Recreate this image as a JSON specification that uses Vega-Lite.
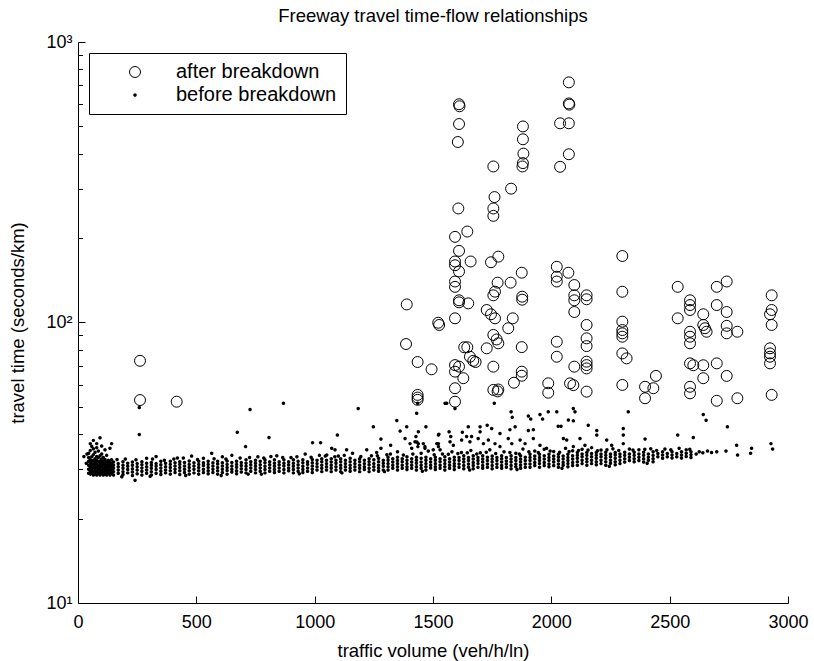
{
"$schema":"https://vega.github.io/schema/vega-lite/v6.json",
"width":710,"height":561,
"autosize":{"type":"none"},
"padding":{"left":78,"top":42,"right":26,"bottom":58},
"background":"white",
"title":{"text":"Freeway travel time-flow relationships","fontSize":18.5,"fontWeight":"normal","font":"Liberation Sans","color":"black","frame":"group","anchor":"middle","baseline":"alphabetic","offset":2,"dy":9},
"config":{"view":{"stroke":null},"font":"Liberation Sans",
"axis":{"grid":false,"domainColor":"black","domainWidth":1,"tickColor":"black","tickWidth":1,"labelColor":"black","titleColor":"black","labelFontSize":18,"titleFontSize":18.5,"titleFontWeight":"normal","labelFont":"Liberation Sans","titleFont":"Liberation Sans"},
"legend":{"orient":"none","legendX":11,"legendY":11,"strokeColor":"black","fillColor":"white","padding":9,"labelFontSize":20,"labelLimit":400,"labelFont":"Liberation Sans","labelColor":"black","symbolStrokeColor":"black","symbolType":"circle","symbolOffset":27,"labelOffset":31,"rowPadding":3,"cornerRadius":0,"strokeWidth":1}},
"datasets":{
"after":[{"x":262,"y":73},{"x":262,"y":52.9},{"x":417,"y":52.2},
{"x":1389,"y":116},{"x":1386,"y":83.8},{"x":1435,"y":72.3},{"x":1435,"y":55.2},{"x":1435,"y":54},{"x":1435,"y":53},{"x":1494,"y":68.1},{"x":1522,"y":99.8},{"x":1526,"y":98},
{"x":1593,"y":202},{"x":1645,"y":211},{"x":1610,"y":180},{"x":1593,"y":165},{"x":1593,"y":160},{"x":1610,"y":152},{"x":1659,"y":165},{"x":1593,"y":140},{"x":1593,"y":134},{"x":1610,"y":120},{"x":1610,"y":118},{"x":1649,"y":117},{"x":1593,"y":103.5},{"x":1632,"y":81.6},{"x":1645,"y":81.6},{"x":1656,"y":75.5},{"x":1670,"y":73},{"x":1680,"y":72.3},{"x":1593,"y":70.5},{"x":1593,"y":66.8},{"x":1610,"y":69.6},{"x":1628,"y":63.3},{"x":1593,"y":58.3},{"x":1593,"y":52.2},
{"x":1727,"y":110.8},{"x":1745,"y":107},{"x":1762,"y":103.5},{"x":1745,"y":164},{"x":1776,"y":171.7},{"x":1755,"y":125},{"x":1762,"y":128.8},{"x":1773,"y":138.7},{"x":1837,"y":103.5},{"x":1818,"y":95.4},{"x":1727,"y":80.9},{"x":1755,"y":90.3},{"x":1769,"y":87},{"x":1776,"y":84.3},{"x":1755,"y":69.6},{"x":1755,"y":57.5},{"x":1773,"y":56.8},{"x":1776,"y":57.7},{"x":1828,"y":138.7},{"x":1875,"y":150.5},{"x":1877,"y":123.6},{"x":1877,"y":120.6},{"x":1875,"y":81.7},{"x":1875,"y":66.8},{"x":1875,"y":64.6},{"x":1842,"y":61},
{"x":2023,"y":158},{"x":2023,"y":145.6},{"x":2023,"y":140},{"x":2072,"y":150.5},{"x":2023,"y":85.4},{"x":2023,"y":75.5},{"x":1987,"y":60.7},{"x":1987,"y":56.2},
{"x":2097,"y":136},{"x":2097,"y":125},{"x":2097,"y":120},{"x":2097,"y":109},{"x":2149,"y":125},{"x":2149,"y":121},{"x":2149,"y":98},{"x":2149,"y":87.8},{"x":2149,"y":82.4},{"x":2149,"y":72.5},{"x":2149,"y":70.5},{"x":2149,"y":68.6},{"x":2149,"y":56.7},{"x":2097,"y":69.6},{"x":2079,"y":60.7},{"x":2093,"y":59.8},
{"x":2300,"y":172.6},{"x":2300,"y":128.7},{"x":2300,"y":100.7},{"x":2300,"y":94},{"x":2300,"y":91.5},{"x":2300,"y":89},{"x":2300,"y":77.6},{"x":2318,"y":74.5},{"x":2300,"y":59.9},
{"x":2396,"y":59},{"x":2396,"y":53.7},{"x":2431,"y":58.3},{"x":2442,"y":64.5},
{"x":2534,"y":134},{"x":2534,"y":103.5},{"x":2586,"y":120},{"x":2586,"y":115.4},{"x":2586,"y":110.8},{"x":2586,"y":92.7},{"x":2586,"y":89},{"x":2586,"y":84.3},{"x":2586,"y":71.5},{"x":2600,"y":70.4},{"x":2586,"y":59},{"x":2586,"y":55.9},
{"x":2642,"y":107},{"x":2642,"y":98},{"x":2649,"y":95.4},{"x":2656,"y":92.7},{"x":2642,"y":70.4},{"x":2642,"y":63.3},{"x":2699,"y":134},{"x":2699,"y":115.4},{"x":2699,"y":71.5},{"x":2699,"y":52.6},{"x":2741,"y":140},{"x":2741,"y":109},{"x":2741,"y":97.3},{"x":2741,"y":91.5},{"x":2741,"y":64.5},{"x":2786,"y":92.7},{"x":2786,"y":53.7},
{"x":2931,"y":125},{"x":2931,"y":110.8},{"x":2924,"y":107},{"x":2931,"y":98},{"x":2924,"y":80.9},{"x":2924,"y":77.6},{"x":2924,"y":75.5},{"x":2924,"y":71.5},{"x":2931,"y":55.2},
{"x":1610,"y":600},{"x":1612,"y":590},{"x":1610,"y":510},{"x":1605,"y":440},{"x":1607,"y":255},{"x":1755,"y":360},{"x":1760,"y":280},{"x":1755,"y":255},{"x":1755,"y":240},{"x":1830,"y":300},{"x":1880,"y":500},{"x":1880,"y":450},{"x":1882,"y":400},{"x":1880,"y":370},{"x":1878,"y":360},{"x":2037,"y":513},{"x":2037,"y":359},{"x":2074,"y":718},{"x":2074,"y":604},{"x":2076,"y":598},{"x":2074,"y":513},{"x":2074,"y":398}],
"before":[
{"x":25,"y":33.3},{"x":35,"y":31.5},{"x":38,"y":34.0},
{"x":45,"y":29.0},{"x":45,"y":30.0},{"x":45,"y":31.0},{"x":45,"y":32.0},{"x":45,"y":33.0},{"x":45,"y":34.2},
{"x":52,"y":28.8},{"x":52,"y":29.6},{"x":52,"y":30.5},{"x":52,"y":31.4},{"x":52,"y":32.4},{"x":52,"y":35.0},{"x":52,"y":37.0},
{"x":58,"y":29.2},{"x":58,"y":30.1},{"x":58,"y":31.0},{"x":58,"y":32.0},{"x":58,"y":33.2},{"x":58,"y":36.2},
{"x":65,"y":28.6},{"x":65,"y":29.5},{"x":65,"y":30.4},{"x":65,"y":31.3},{"x":65,"y":32.2},{"x":65,"y":33.8},{"x":65,"y":35.5},{"x":65,"y":38.0},
{"x":72,"y":29.0},{"x":72,"y":29.9},{"x":72,"y":30.8},{"x":72,"y":31.7},{"x":72,"y":32.7},{"x":72,"y":34.5},
{"x":79,"y":28.6},{"x":79,"y":29.5},{"x":79,"y":30.4},{"x":79,"y":31.3},{"x":79,"y":32.2},{"x":79,"y":33.3},{"x":79,"y":35.8},{"x":79,"y":37.0},
{"x":86,"y":29.0},{"x":86,"y":29.9},{"x":86,"y":30.8},{"x":86,"y":31.8},{"x":86,"y":33.0},{"x":86,"y":34.8},
{"x":93,"y":28.6},{"x":93,"y":29.4},{"x":93,"y":30.3},{"x":93,"y":31.2},{"x":93,"y":32.1},{"x":93,"y":33.5},{"x":93,"y":38.8},
{"x":100,"y":29.0},{"x":100,"y":29.8},{"x":100,"y":30.7},{"x":100,"y":31.6},{"x":100,"y":32.6},{"x":100,"y":34.0},{"x":100,"y":36.3},
{"x":107,"y":28.6},{"x":107,"y":29.4},{"x":107,"y":30.2},{"x":107,"y":31.1},{"x":107,"y":32.0},{"x":107,"y":33.0},
{"x":114,"y":29.0},{"x":114,"y":29.8},{"x":114,"y":30.6},{"x":114,"y":31.5},{"x":114,"y":32.5},{"x":114,"y":35.2},
{"x":121,"y":28.6},{"x":121,"y":29.4},{"x":121,"y":30.2},{"x":121,"y":31.0},{"x":121,"y":31.9},{"x":121,"y":33.6},
{"x":128,"y":29.0},{"x":128,"y":29.8},{"x":128,"y":30.6},{"x":128,"y":31.4},{"x":128,"y":32.3},
{"x":135,"y":28.6},{"x":135,"y":29.4},{"x":135,"y":30.2},{"x":135,"y":31.0},{"x":135,"y":31.8},{"x":135,"y":35.6},
{"x":142,"y":29.0},{"x":142,"y":29.8},{"x":142,"y":30.6},{"x":142,"y":31.4},{"x":142,"y":32.4},{"x":142,"y":37.0},
{"x":150,"y":28.6},{"x":150,"y":29.4},{"x":150,"y":30.2},{"x":150,"y":31.0},{"x":150,"y":31.8},
{"x":170,"y":29.0},{"x":170,"y":29.8},{"x":170,"y":30.6},{"x":170,"y":31.4},
{"x":190,"y":28.7},{"x":190,"y":29.4},{"x":190,"y":30.2},{"x":190,"y":31.0},{"x":190,"y":31.9},
{"x":210,"y":29.1},{"x":210,"y":29.9},{"x":210,"y":30.7},{"x":210,"y":31.5},
{"x":230,"y":28.5},{"x":230,"y":29.3},{"x":230,"y":30.1},{"x":230,"y":31.0},{"x":230,"y":31.8},
{"x":250,"y":28.9},{"x":250,"y":29.8},{"x":250,"y":30.6},{"x":250,"y":31.4},
{"x":270,"y":28.6},{"x":270,"y":29.5},{"x":270,"y":30.3},{"x":270,"y":31.1},{"x":270,"y":31.9},
{"x":290,"y":29.0},{"x":290,"y":29.8},{"x":290,"y":30.6},{"x":290,"y":31.5},
{"x":310,"y":28.6},{"x":310,"y":29.4},{"x":310,"y":30.2},{"x":310,"y":31.0},{"x":310,"y":31.7},
{"x":330,"y":29.0},{"x":330,"y":29.9},{"x":330,"y":30.7},{"x":330,"y":31.4},
{"x":350,"y":28.7},{"x":350,"y":29.5},{"x":350,"y":30.3},{"x":350,"y":31.1},{"x":350,"y":32.0},
{"x":370,"y":29.1},{"x":370,"y":29.8},{"x":370,"y":30.6},{"x":370,"y":31.5},
{"x":390,"y":28.8},{"x":390,"y":29.6},{"x":390,"y":30.4},{"x":390,"y":31.2},{"x":390,"y":32.0},
{"x":410,"y":29.2},{"x":410,"y":30.0},{"x":410,"y":30.8},{"x":410,"y":31.6},
{"x":430,"y":28.7},{"x":430,"y":29.6},{"x":430,"y":30.4},{"x":430,"y":31.2},{"x":430,"y":31.9},
{"x":450,"y":29.2},{"x":450,"y":30.0},{"x":450,"y":30.8},{"x":450,"y":31.7},
{"x":470,"y":28.8},{"x":470,"y":29.6},{"x":470,"y":30.4},{"x":470,"y":31.2},{"x":470,"y":32.1},
{"x":490,"y":29.1},{"x":490,"y":30.0},{"x":490,"y":30.8},{"x":490,"y":31.6},
{"x":510,"y":28.8},{"x":510,"y":29.6},{"x":510,"y":30.4},{"x":510,"y":31.2},{"x":510,"y":32.0},
{"x":530,"y":29.2},{"x":530,"y":30.0},{"x":530,"y":30.9},{"x":530,"y":31.6},
{"x":550,"y":28.9},{"x":550,"y":29.6},{"x":550,"y":30.4},{"x":550,"y":31.2},{"x":550,"y":32.0},
{"x":570,"y":29.2},{"x":570,"y":30.0},{"x":570,"y":30.8},{"x":570,"y":31.6},
{"x":590,"y":28.8},{"x":590,"y":29.6},{"x":590,"y":30.4},{"x":590,"y":31.3},{"x":590,"y":32.0},
{"x":610,"y":29.2},{"x":610,"y":30.0},{"x":610,"y":30.8},{"x":610,"y":31.6},
{"x":630,"y":28.8},{"x":630,"y":29.7},{"x":630,"y":30.4},{"x":630,"y":31.2},{"x":630,"y":32.1},
{"x":650,"y":29.3},{"x":650,"y":30.0},{"x":650,"y":30.8},{"x":650,"y":31.7},
{"x":670,"y":28.9},{"x":670,"y":29.6},{"x":670,"y":30.5},{"x":670,"y":31.2},{"x":670,"y":32.0},
{"x":690,"y":29.3},{"x":690,"y":30.1},{"x":690,"y":30.9},{"x":690,"y":31.7},
{"x":710,"y":29.1},{"x":710,"y":29.9},{"x":710,"y":30.7},{"x":710,"y":31.5},{"x":710,"y":32.4},
{"x":730,"y":29.5},{"x":730,"y":30.3},{"x":730,"y":31.1},{"x":730,"y":31.9},
{"x":750,"y":29.1},{"x":750,"y":29.9},{"x":750,"y":30.7},{"x":750,"y":31.5},{"x":750,"y":32.3},
{"x":770,"y":29.5},{"x":770,"y":30.3},{"x":770,"y":31.1},{"x":770,"y":32.0},
{"x":790,"y":29.1},{"x":790,"y":29.9},{"x":790,"y":30.7},{"x":790,"y":31.6},{"x":790,"y":32.4},
{"x":810,"y":29.5},{"x":810,"y":30.3},{"x":810,"y":31.1},{"x":810,"y":31.9},
{"x":830,"y":29.2},{"x":830,"y":29.9},{"x":830,"y":30.7},{"x":830,"y":31.5},{"x":830,"y":32.4},
{"x":850,"y":29.5},{"x":850,"y":30.3},{"x":850,"y":31.1},{"x":850,"y":31.9},
{"x":870,"y":29.1},{"x":870,"y":29.9},{"x":870,"y":30.8},{"x":870,"y":31.5},{"x":870,"y":32.4},
{"x":890,"y":29.6},{"x":890,"y":30.3},{"x":890,"y":31.1},{"x":890,"y":31.9},
{"x":910,"y":29.1},{"x":910,"y":29.9},{"x":910,"y":30.7},{"x":910,"y":31.5},{"x":910,"y":32.4},
{"x":930,"y":29.5},{"x":930,"y":30.3},{"x":930,"y":31.1},{"x":930,"y":32.0},
{"x":950,"y":29.2},{"x":950,"y":29.9},{"x":950,"y":30.7},{"x":950,"y":31.6},{"x":950,"y":32.4},
{"x":970,"y":29.5},{"x":970,"y":30.3},{"x":970,"y":31.2},{"x":970,"y":31.9},
{"x":990,"y":29.2},{"x":990,"y":30.0},{"x":990,"y":30.8},{"x":990,"y":31.6},{"x":990,"y":32.5},
{"x":1010,"y":29.8},{"x":1010,"y":30.6},{"x":1010,"y":31.4},{"x":1010,"y":32.3},
{"x":1030,"y":29.4},{"x":1030,"y":30.2},{"x":1030,"y":31.0},{"x":1030,"y":31.9},{"x":1030,"y":32.7},
{"x":1050,"y":29.8},{"x":1050,"y":30.6},{"x":1050,"y":31.4},{"x":1050,"y":32.3},
{"x":1070,"y":29.4},{"x":1070,"y":30.2},{"x":1070,"y":31.0},{"x":1070,"y":31.8},{"x":1070,"y":32.7},
{"x":1090,"y":29.8},{"x":1090,"y":30.6},{"x":1090,"y":31.5},{"x":1090,"y":32.3},
{"x":1110,"y":29.4},{"x":1110,"y":30.2},{"x":1110,"y":31.0},{"x":1110,"y":31.9},{"x":1110,"y":32.7},
{"x":1130,"y":29.8},{"x":1130,"y":30.6},{"x":1130,"y":31.4},{"x":1130,"y":32.3},
{"x":1150,"y":29.5},{"x":1150,"y":30.2},{"x":1150,"y":31.0},{"x":1150,"y":31.9},{"x":1150,"y":32.8},
{"x":1170,"y":29.8},{"x":1170,"y":30.6},{"x":1170,"y":31.4},{"x":1170,"y":32.3},
{"x":1190,"y":29.4},{"x":1190,"y":30.2},{"x":1190,"y":31.0},{"x":1190,"y":31.9},{"x":1190,"y":32.7},
{"x":1210,"y":29.9},{"x":1210,"y":30.6},{"x":1210,"y":31.4},{"x":1210,"y":32.3},
{"x":1230,"y":29.4},{"x":1230,"y":30.2},{"x":1230,"y":31.1},{"x":1230,"y":31.9},{"x":1230,"y":32.7},
{"x":1250,"y":29.8},{"x":1250,"y":30.6},{"x":1250,"y":31.4},{"x":1250,"y":32.4},
{"x":1270,"y":29.5},{"x":1270,"y":30.2},{"x":1270,"y":31.0},{"x":1270,"y":31.9},{"x":1270,"y":32.8},
{"x":1290,"y":29.8},{"x":1290,"y":30.7},{"x":1290,"y":31.5},{"x":1290,"y":32.3},
{"x":1310,"y":29.8},{"x":1310,"y":30.6},{"x":1310,"y":31.4},{"x":1310,"y":32.3},{"x":1310,"y":33.1},
{"x":1330,"y":30.2},{"x":1330,"y":31.0},{"x":1330,"y":31.8},{"x":1330,"y":32.7},
{"x":1350,"y":29.8},{"x":1350,"y":30.6},{"x":1350,"y":31.4},{"x":1350,"y":32.2},{"x":1350,"y":33.1},
{"x":1370,"y":30.2},{"x":1370,"y":31.0},{"x":1370,"y":31.9},{"x":1370,"y":32.7},
{"x":1390,"y":29.9},{"x":1390,"y":30.6},{"x":1390,"y":31.4},{"x":1390,"y":32.3},{"x":1390,"y":33.2},
{"x":1410,"y":30.2},{"x":1410,"y":31.0},{"x":1410,"y":31.8},{"x":1410,"y":32.7},
{"x":1430,"y":29.8},{"x":1430,"y":30.6},{"x":1430,"y":31.5},{"x":1430,"y":32.3},{"x":1430,"y":33.1},
{"x":1450,"y":30.2},{"x":1450,"y":31.0},{"x":1450,"y":31.8},{"x":1450,"y":32.8},
{"x":1470,"y":29.8},{"x":1470,"y":30.6},{"x":1470,"y":31.4},{"x":1470,"y":32.3},{"x":1470,"y":33.1},
{"x":1490,"y":30.3},{"x":1490,"y":31.0},{"x":1490,"y":31.8},{"x":1490,"y":32.7},
{"x":1510,"y":29.9},{"x":1510,"y":30.6},{"x":1510,"y":31.4},{"x":1510,"y":32.3},{"x":1510,"y":33.1},
{"x":1530,"y":30.2},{"x":1530,"y":31.0},{"x":1530,"y":31.9},{"x":1530,"y":32.7},
{"x":1550,"y":29.8},{"x":1550,"y":30.6},{"x":1550,"y":31.4},{"x":1550,"y":32.3},{"x":1550,"y":33.2},
{"x":1570,"y":30.2},{"x":1570,"y":31.0},{"x":1570,"y":31.8},{"x":1570,"y":32.7},
{"x":1590,"y":29.9},{"x":1590,"y":30.7},{"x":1590,"y":31.4},{"x":1590,"y":32.3},{"x":1590,"y":33.1},
{"x":1610,"y":30.5},{"x":1610,"y":31.3},{"x":1610,"y":32.2},{"x":1610,"y":33.0},
{"x":1630,"y":30.1},{"x":1630,"y":30.9},{"x":1630,"y":31.8},{"x":1630,"y":32.6},{"x":1630,"y":33.5},
{"x":1650,"y":30.5},{"x":1650,"y":31.3},{"x":1650,"y":32.2},{"x":1650,"y":33.0},
{"x":1670,"y":30.1},{"x":1670,"y":30.9},{"x":1670,"y":31.7},{"x":1670,"y":32.6},{"x":1670,"y":33.5},
{"x":1690,"y":30.5},{"x":1690,"y":31.4},{"x":1690,"y":32.2},{"x":1690,"y":33.0},
{"x":1710,"y":30.2},{"x":1710,"y":30.9},{"x":1710,"y":31.8},{"x":1710,"y":32.6},{"x":1710,"y":33.5},
{"x":1730,"y":30.5},{"x":1730,"y":31.3},{"x":1730,"y":32.2},{"x":1730,"y":33.1},
{"x":1750,"y":30.1},{"x":1750,"y":30.9},{"x":1750,"y":31.8},{"x":1750,"y":32.6},{"x":1750,"y":33.4},
{"x":1770,"y":30.5},{"x":1770,"y":31.3},{"x":1770,"y":32.2},{"x":1770,"y":33.0},
{"x":1790,"y":30.2},{"x":1790,"y":30.9},{"x":1790,"y":31.8},{"x":1790,"y":32.7},{"x":1790,"y":33.5},
{"x":1810,"y":30.5},{"x":1810,"y":31.3},{"x":1810,"y":32.1},{"x":1810,"y":33.0},
{"x":1830,"y":30.1},{"x":1830,"y":30.9},{"x":1830,"y":31.8},{"x":1830,"y":32.6},{"x":1830,"y":33.5},
{"x":1850,"y":30.6},{"x":1850,"y":31.3},{"x":1850,"y":32.2},{"x":1850,"y":33.0},
{"x":1870,"y":30.2},{"x":1870,"y":31.0},{"x":1870,"y":31.8},{"x":1870,"y":32.6},{"x":1870,"y":33.5},
{"x":1890,"y":30.5},{"x":1890,"y":31.3},{"x":1890,"y":32.2},{"x":1890,"y":33.1},
{"x":1910,"y":30.5},{"x":1910,"y":31.3},{"x":1910,"y":32.2},{"x":1910,"y":33.0},{"x":1910,"y":33.9},
{"x":1930,"y":30.9},{"x":1930,"y":31.7},{"x":1930,"y":32.6},{"x":1930,"y":33.4},
{"x":1950,"y":30.5},{"x":1950,"y":31.4},{"x":1950,"y":32.2},{"x":1950,"y":33.0},{"x":1950,"y":33.9},
{"x":1970,"y":30.9},{"x":1970,"y":31.7},{"x":1970,"y":32.6},{"x":1970,"y":33.5},
{"x":1990,"y":30.6},{"x":1990,"y":31.3},{"x":1990,"y":32.2},{"x":1990,"y":33.0},{"x":1990,"y":33.9},
{"x":2010,"y":30.9},{"x":2010,"y":31.8},{"x":2010,"y":32.6},{"x":2010,"y":33.4},
{"x":2030,"y":30.5},{"x":2030,"y":31.3},{"x":2030,"y":32.2},{"x":2030,"y":33.1},{"x":2030,"y":33.9},
{"x":2050,"y":31.0},{"x":2050,"y":31.7},{"x":2050,"y":32.6},{"x":2050,"y":33.4},
{"x":2070,"y":30.6},{"x":2070,"y":31.4},{"x":2070,"y":32.2},{"x":2070,"y":33.0},{"x":2070,"y":33.9},
{"x":2090,"y":30.9},{"x":2090,"y":31.7},{"x":2090,"y":32.6},{"x":2090,"y":33.5},
{"x":2110,"y":31.0},{"x":2110,"y":31.9},{"x":2110,"y":32.8},{"x":2110,"y":33.6},{"x":2110,"y":34.4},
{"x":2130,"y":31.4},{"x":2130,"y":32.3},{"x":2130,"y":33.2},{"x":2130,"y":34.0},
{"x":2150,"y":31.0},{"x":2150,"y":31.9},{"x":2150,"y":32.7},{"x":2150,"y":33.6},{"x":2150,"y":34.4},
{"x":2170,"y":31.4},{"x":2170,"y":32.3},{"x":2170,"y":33.2},{"x":2170,"y":34.1},
{"x":2190,"y":31.1},{"x":2190,"y":31.9},{"x":2190,"y":32.8},{"x":2190,"y":33.6},{"x":2190,"y":34.4},
{"x":2210,"y":31.4},{"x":2210,"y":32.3},{"x":2210,"y":33.2},{"x":2210,"y":34.0},
{"x":2230,"y":31.0},{"x":2230,"y":31.9},{"x":2230,"y":32.8},{"x":2230,"y":33.6},{"x":2230,"y":34.5},
{"x":2250,"y":31.5},{"x":2250,"y":32.3},{"x":2250,"y":33.2},{"x":2250,"y":34.0},
{"x":2270,"y":31.1},{"x":2270,"y":31.9},{"x":2270,"y":32.8},{"x":2270,"y":33.7},{"x":2270,"y":34.4},
{"x":2290,"y":31.4},{"x":2290,"y":32.3},{"x":2290,"y":33.2},{"x":2290,"y":34.0},
{"x":2310,"y":31.8},{"x":2310,"y":32.7},{"x":2310,"y":33.6},{"x":2310,"y":34.5},
{"x":2330,"y":32.2},{"x":2330,"y":33.1},{"x":2330,"y":34.0},
{"x":2350,"y":31.9},{"x":2350,"y":32.7},{"x":2350,"y":33.6},{"x":2350,"y":34.5},
{"x":2370,"y":32.2},{"x":2370,"y":33.1},{"x":2370,"y":34.0},
{"x":2390,"y":31.8},{"x":2390,"y":32.7},{"x":2390,"y":33.6},{"x":2390,"y":34.5},
{"x":2410,"y":32.3},{"x":2410,"y":33.1},{"x":2410,"y":34.0},
{"x":2430,"y":31.9},{"x":2430,"y":32.7},{"x":2430,"y":33.6},{"x":2430,"y":34.6},
{"x":2450,"y":33.2},{"x":2450,"y":34.1},
{"x":2470,"y":32.8},{"x":2470,"y":33.7},{"x":2470,"y":34.6},
{"x":2490,"y":33.2},{"x":2490,"y":34.1},
{"x":2510,"y":32.9},{"x":2510,"y":33.7},{"x":2510,"y":34.6},
{"x":2530,"y":33.2},{"x":2530,"y":34.1},
{"x":2550,"y":32.9},{"x":2550,"y":33.7},{"x":2550,"y":34.6},
{"x":2570,"y":33.3},{"x":2570,"y":34.2},
{"x":2590,"y":33.0},{"x":2590,"y":33.8},{"x":2590,"y":34.6},
{"x":165,"y":32.5},{"x":245,"y":32.4},{"x":315,"y":32.6},{"x":365,"y":32.3},{"x":405,"y":32.6},{"x":445,"y":32.9},{"x":505,"y":32.5},{"x":575,"y":32.7},{"x":625,"y":32.6},{"x":685,"y":32.9},{"x":725,"y":33.0},{"x":785,"y":32.9},{"x":815,"y":33.3},{"x":865,"y":33.0},{"x":925,"y":33.2},{"x":985,"y":33.1},{"x":1045,"y":33.4},{"x":1085,"y":33.2},{"x":1125,"y":33.6},{"x":1195,"y":33.3},{"x":1265,"y":33.5},{"x":1305,"y":33.8},{"x":1375,"y":33.7},{"x":1415,"y":34.0},{"x":1505,"y":33.8},{"x":1565,"y":33.9},{"x":1605,"y":34.1},{"x":1645,"y":34.3},{"x":1685,"y":34.0},{"x":1725,"y":34.5},{"x":1765,"y":34.1},{"x":1825,"y":34.4},{"x":1865,"y":34.0},{"x":1905,"y":34.6},{"x":1945,"y":34.4},{"x":1995,"y":34.8},{"x":2035,"y":34.5},{"x":2075,"y":34.7},{"x":2115,"y":35.0},{"x":2155,"y":35.1},{"x":2195,"y":34.9},{"x":2235,"y":35.2},{"x":2285,"y":35.0},{"x":2345,"y":35.1},{"x":2395,"y":35.3},{"x":2445,"y":35.0},{"x":2505,"y":35.2},{"x":2585,"y":35.3},
{"x":185,"y":28.2},{"x":305,"y":28.3},{"x":455,"y":28.5},{"x":605,"y":28.5},{"x":775,"y":28.8},{"x":935,"y":28.9},{"x":1115,"y":29.1},{"x":1295,"y":29.4},{"x":1455,"y":29.5},{"x":1655,"y":29.8},{"x":1855,"y":29.9},{"x":2045,"y":30.2},{"x":2245,"y":30.7},{"x":2405,"y":31.5},
{"x":200,"y":32.6},{"x":290,"y":32.8},{"x":330,"y":33.3},{"x":420,"y":32.9},{"x":480,"y":33.4},{"x":530,"y":32.8},{"x":610,"y":33.2},{"x":650,"y":33.6},
{"x":760,"y":33.2},{"x":840,"y":33.5},{"x":900,"y":33.0},{"x":960,"y":34.0},
{"x":1020,"y":33.6},{"x":1100,"y":33.4},{"x":1160,"y":34.2},{"x":1240,"y":33.5},
{"x":1320,"y":34.0},{"x":1350,"y":34.6},{"x":1450,"y":34.2},{"x":1480,"y":34.8},{"x":1540,"y":34.0},{"x":1580,"y":34.6},
{"x":1620,"y":34.4},{"x":1660,"y":35.0},{"x":1700,"y":34.3},{"x":1740,"y":35.2},{"x":1800,"y":34.6},{"x":1850,"y":34.2},{"x":1880,"y":35.4},
{"x":1930,"y":34.8},{"x":1970,"y":35.3},{"x":2010,"y":34.7},{"x":2060,"y":35.6},{"x":2090,"y":34.9},
{"x":2130,"y":35.3},{"x":2170,"y":35.8},{"x":2210,"y":35.1},{"x":2260,"y":35.5},
{"x":2330,"y":35.4},{"x":2370,"y":35.2},{"x":2420,"y":35.5},{"x":2480,"y":35.4},{"x":2540,"y":35.6},{"x":2570,"y":35.2},
{"x":2612,"y":34.0},{"x":2625,"y":34.6},{"x":2640,"y":34.3},{"x":2660,"y":34.8},
{"x":259,"y":49.8},{"x":259,"y":39.9},{"x":241,"y":27.4},{"x":719,"y":28.8},{"x":727,"y":49.0},{"x":868,"y":51.5},{"x":673,"y":40.6},{"x":807,"y":38.9},{"x":708,"y":36.1},{"x":565,"y":34.2},
{"x":1184,"y":49.4},{"x":1248,"y":42.5},{"x":1280,"y":38.4},{"x":1347,"y":44.7},{"x":1361,"y":41.0},{"x":1389,"y":42.5},{"x":1431,"y":47.5},{"x":1438,"y":40.8},{"x":1428,"y":39.2},{"x":1432,"y":37.5},{"x":1436,"y":36.1},{"x":1470,"y":42.5},{"x":1523,"y":39.7},{"x":1523,"y":36.1},{"x":1558,"y":51.5},{"x":991,"y":37.3},{"x":1025,"y":37.3},{"x":1051,"y":33.7},{"x":1072,"y":35.6},{"x":1086,"y":35.2},{"x":1096,"y":39.7},{"x":1135,"y":35.2},{"x":1220,"y":35.2},{"x":1262,"y":34.4},{"x":1280,"y":35.6},{"x":1321,"y":36.5},{"x":1382,"y":38.6},{"x":1403,"y":37.0},{"x":1410,"y":35.6},{"x":1459,"y":37.0},{"x":1466,"y":35.6},{"x":1516,"y":37.0},{"x":1530,"y":35.2},
{"x":1435,"y":51.5},{"x":1551,"y":51.5},{"x":1593,"y":49.4},{"x":1759,"y":51.5},{"x":1830,"y":48.1},{"x":1835,"y":45.9},{"x":1903,"y":46.4},{"x":1913,"y":45.3},{"x":1952,"y":47.0},{"x":1963,"y":45.3},{"x":1987,"y":48.1},{"x":2023,"y":48.1},{"x":2093,"y":49.4},{"x":2100,"y":48.1},{"x":2325,"y":48.1},{"x":2642,"y":47.0},{"x":2654,"y":44.8},{"x":2744,"y":42.5},
{"x":1525,"y":40.0},{"x":1568,"y":40.8},{"x":1575,"y":39.2},{"x":1624,"y":40.6},{"x":1649,"y":42.5},{"x":1663,"y":39.2},{"x":1699,"y":42.5},{"x":1699,"y":40.8},{"x":1729,"y":43.0},{"x":1748,"y":41.9},{"x":1783,"y":40.2},{"x":1825,"y":41.5},{"x":1847,"y":42.5},{"x":1903,"y":41.2},{"x":1924,"y":41.5},{"x":2029,"y":42.7},{"x":2041,"y":42.7},{"x":2072,"y":44.9},{"x":2093,"y":44.6},{"x":2156,"y":43.0},{"x":2192,"y":41.2},{"x":2192,"y":39.7},{"x":2304,"y":41.9},{"x":2304,"y":39.7},{"x":2304,"y":37.0},{"x":2396,"y":38.4},{"x":2534,"y":39.7},{"x":2600,"y":38.9},{"x":2928,"y":37.0},{"x":2935,"y":35.4},{"x":2783,"y":36.5},{"x":2787,"y":33.7},{"x":2846,"y":35.6},{"x":2842,"y":34.2},{"x":2677,"y":34.4},{"x":2699,"y":34.6},{"x":2738,"y":34.8},
{"x":1424,"y":37.6},{"x":1438,"y":37.0},{"x":1466,"y":36.1},{"x":1501,"y":35.2},{"x":1523,"y":37.0},{"x":1572,"y":37.6},{"x":1586,"y":36.5},{"x":1621,"y":38.1},{"x":1642,"y":39.2},{"x":1656,"y":37.6},{"x":1691,"y":38.6},{"x":1713,"y":37.0},{"x":1734,"y":38.1},{"x":1762,"y":37.0},{"x":1783,"y":36.1},{"x":1818,"y":38.6},{"x":1833,"y":37.0},{"x":1868,"y":38.1},{"x":1889,"y":37.0},{"x":1924,"y":38.6},{"x":1952,"y":36.5},{"x":1980,"y":35.6},{"x":2051,"y":38.6},{"x":2065,"y":38.1},{"x":2093,"y":36.1},{"x":2121,"y":38.6},{"x":2142,"y":36.5},{"x":2234,"y":38.1},{"x":2255,"y":36.5}
]},
"encoding":{
"x":{"field":"x","type":"quantitative","scale":{"domain":[0,3000],"nice":false,"zero":false},"axis":{"values":[0,500,1000,1500,2000,2500,3000],"format":"d","title":"traffic volume (veh/h/ln)","tickSize":-7,"labelPadding":17,"titlePadding":10,"labelFlush":false,"labelOverlap":false}},
"y":{"field":"y","type":"quantitative","scale":{"type":"log","domain":[10,1000],"nice":false},"axis":{"values":[10,20,30,40,50,60,70,80,90,100,200,300,400,500,600,700,800,900,1000],"title":"travel time (seconds/km)","labelExpr":"datum.value==10?'10¹':datum.value==100?'10²':datum.value==1000?'10³':''","tickSize":{"condition":{"test":"datum.value==10||datum.value==100||datum.value==1000","value":-7},"value":-4.5},"labelPadding":13,"titlePadding":18,"labelFlush":false,"labelOverlap":false}}
},
"layer":[
{"data":{"name":"after"},"mark":{"type":"point","shape":"circle","filled":false,"color":"black","opacity":1},
"encoding":{"size":{"datum":"after breakdown","type":"nominal","scale":{"type":"point","domain":["after breakdown","before breakdown"],"range":[120,3.2],"padding":0},"legend":{"title":null}},
"strokeWidth":{"datum":"after breakdown","type":"nominal","scale":{"type":"point","domain":["after breakdown","before breakdown"],"range":[1,1.7],"padding":0},"legend":{"title":null}}}},
{"data":{"name":"before"},"mark":{"type":"point","shape":"circle","filled":false,"color":"black","opacity":1},
"encoding":{"size":{"datum":"before breakdown","type":"nominal","scale":{"type":"point","domain":["after breakdown","before breakdown"],"range":[120,3.2],"padding":0},"legend":{"title":null}},
"strokeWidth":{"datum":"before breakdown","type":"nominal","scale":{"type":"point","domain":["after breakdown","before breakdown"],"range":[1,1.7],"padding":0},"legend":{"title":null}}}}
]
}
